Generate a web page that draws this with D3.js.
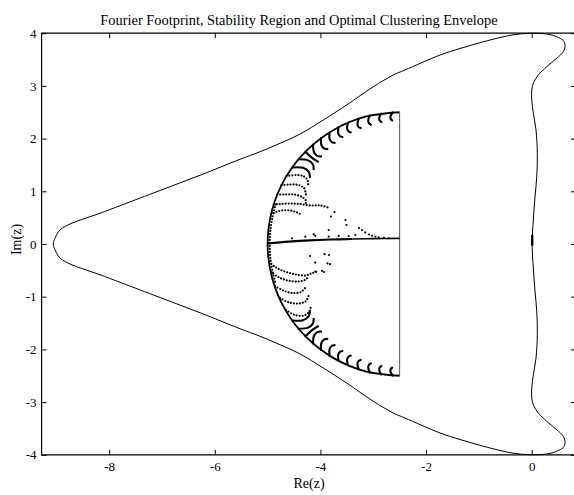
<!DOCTYPE html>
<html>
<head>
<meta charset="utf-8">
<script src="https://cdn.jsdelivr.net/npm/d3@7"></script>
<style>
  body { margin: 0; background: #fff; }
  svg { display: block; }
  text { font-family: "Liberation Serif", "Times New Roman", Times, serif; fill: #000; }
</style>
</head>
<body>
<svg id="chart" width="574" height="495"></svg>
<script>
// ---- axis ticks ----
const xTicks = [-8, -6, -4, -2, 0];
const yTicks = [-4, -3, -2, -1, 0, 1, 2, 3, 4];

// ---- stability region boundary (closed curve, Re / Im) ----
const stabilityRe = [
  -9.059, -9.027, -8.932, -8.742, -8.491, -8.174, -7.795, -7.038, -6.280, -5.523,
  -5.144, -4.765, -4.386, -3.945, -3.502, -2.998, -2.619, -2.398, -1.735, -1.356,
  -0.977, -0.598, -0.314, -0.030, 0.286, 0.475, 0.600, 0.633, 0.600, 0.475,
  0.286, 0.127, 0.032, 0.002, 0.002, 0.032, 0.083, 0.108, 0.097, 0.064,
  0.032, 0.008,
  0.032, 0.064, 0.097, 0.108, 0.083, 0.032, 0.002, 0.002, 0.032, 0.127,
  0.286, 0.475, 0.600, 0.633, 0.600, 0.475, 0.286, -0.030, -0.314, -0.598,
  -0.977, -1.356, -1.735, -2.398, -2.619, -2.998, -3.502, -3.945, -4.386, -4.765,
  -5.144, -5.523, -6.280, -7.038, -7.795, -8.174, -8.491, -8.742, -8.932, -9.027
];
const stabilityIm = [
  0, 0.108, 0.266, 0.380, 0.474, 0.583, 0.727, 1.015, 1.304, 1.607,
  1.751, 1.911, 2.087, 2.353, 2.638, 2.985, 3.207, 3.302, 3.586, 3.710,
  3.820, 3.918, 3.975, 3.998, 3.985, 3.934, 3.858, 3.776, 3.649, 3.524,
  3.364, 3.207, 3.049, 2.922, 2.732, 2.480, 2.163, 1.721, 1.277, 0.898,
  0.455, 0,
  -0.455, -0.898, -1.277, -1.721, -2.163, -2.480, -2.732, -2.922, -3.049, -3.207,
  -3.364, -3.524, -3.649, -3.776, -3.858, -3.934, -3.985, -3.998, -3.975, -3.918,
  -3.820, -3.710, -3.586, -3.302, -3.207, -2.985, -2.638, -2.353, -2.087, -1.911,
  -1.751, -1.607, -1.304, -1.015, -0.727, -0.583, -0.474, -0.380, -0.266, -0.108
];

// ---- optimal clustering envelope: left half circle, closed by Re = -2.5 ----
const envelopeRe = [-2.5, -3.147, -3.75, -4.268, -4.665, -4.915, -5.0, -4.915, -4.665, -4.268, -3.75, -3.147, -2.5];
const envelopeIm = [2.5, 2.415, 2.165, 1.768, 1.25, 0.647, 0, -0.647, -1.25, -1.768, -2.165, -2.415, -2.5];

// ---- Fourier footprint ----
// dense hooks hanging off the envelope, upper half
const hooksUpper = [
  [[-2.631, 2.497], [-2.672, 2.427], [-2.670, 2.375], [-2.641, 2.346]],
  [[-2.848, 2.476], [-2.886, 2.398], [-2.878, 2.343], [-2.845, 2.315]],
  [[-3.062, 2.436], [-3.095, 2.350], [-3.081, 2.292], [-3.044, 2.266]],
  [[-3.273, 2.378], [-3.299, 2.284], [-3.280, 2.224], [-3.238, 2.200]],
  [[-3.477, 2.301], [-3.496, 2.200], [-3.470, 2.139], [-3.424, 2.117]],
  [[-3.654, 2.218], [-3.666, 2.111], [-3.633, 2.048], [-3.583, 2.030]],
  [[-3.825, 2.120], [-3.829, 2.001], [-3.788, 1.936], [-3.731, 1.919]],
  [[-3.989, 2.010], [-3.983, 1.880], [-3.933, 1.813], [-3.869, 1.800]],
  [[-4.140, 1.887], [-4.121, 1.742], [-4.059, 1.671], [-3.987, 1.662]],
  [[-4.283, 1.752], [-4.187, 1.657], [-4.101, 1.595], [-4.048, 1.563]],
  [[-4.415, 1.607], [-4.232, 1.587], [-4.141, 1.510], [-4.128, 1.420]],
  [[-4.535, 1.452], [-4.330, 1.446], [-4.221, 1.368], [-4.199, 1.269]]
];
// dense hooks, lower half
const hooksLower = [
  [[-2.631, -2.497], [-2.672, -2.427], [-2.670, -2.375], [-2.641, -2.346]],
  [[-2.848, -2.476], [-2.886, -2.398], [-2.878, -2.343], [-2.845, -2.315]],
  [[-3.062, -2.436], [-3.095, -2.350], [-3.081, -2.292], [-3.044, -2.266]],
  [[-3.273, -2.378], [-3.299, -2.284], [-3.280, -2.224], [-3.238, -2.200]],
  [[-3.477, -2.301], [-3.496, -2.200], [-3.470, -2.139], [-3.424, -2.117]],
  [[-3.654, -2.218], [-3.666, -2.111], [-3.633, -2.048], [-3.583, -2.030]],
  [[-3.825, -2.120], [-3.829, -2.001], [-3.788, -1.936], [-3.731, -1.919]],
  [[-3.989, -2.010], [-3.983, -1.880], [-3.933, -1.813], [-3.869, -1.800]],
  [[-4.140, -1.887], [-4.121, -1.742], [-4.059, -1.671], [-3.987, -1.662]],
  [[-4.283, -1.752], [-4.187, -1.657], [-4.101, -1.595], [-4.048, -1.563]],
  [[-4.415, -1.607], [-4.232, -1.587], [-4.141, -1.510], [-4.128, -1.420]],
  [[-4.535, -1.452], [-4.330, -1.446], [-4.221, -1.368], [-4.199, -1.269]]
];
// sparser dotted arcs further round the envelope
const arcsUpper = [
  [[-4.644, 1.288], [-4.443, 1.309], [-4.311, 1.281], [-4.244, 1.214], [-4.235, 1.120]],
  [[-4.737, 1.116], [-4.576, 1.129], [-4.424, 1.120], [-4.311, 1.063], [-4.273, 0.930]],
  [[-4.818, 0.937], [-4.689, 0.939], [-4.500, 0.939], [-4.348, 0.892], [-4.273, 0.816], [-4.292, 0.740]],
  [[-4.884, 0.751], [-4.765, 0.759], [-4.576, 0.768], [-4.386, 0.759], [-4.197, 0.731], [-4.008, 0.731], [-3.856, 0.693]],
  [[-4.936, 0.562], [-4.841, 0.607], [-4.727, 0.636], [-4.576, 0.636], [-4.443, 0.598], [-4.348, 0.550]]
];
const arcsLower = [
  [[-4.973, -0.342], [-4.841, -0.446], [-4.652, -0.531], [-4.462, -0.579], [-4.292, -0.598], [-4.178, -0.560], [-4.064, -0.522]],
  [[-4.936, -0.531], [-4.784, -0.636], [-4.614, -0.693], [-4.424, -0.712], [-4.292, -0.683], [-4.235, -0.626]],
  [[-4.860, -0.797], [-4.708, -0.882], [-4.538, -0.930], [-4.367, -0.911], [-4.292, -0.835]],
  [[-4.765, -1.025], [-4.595, -1.110], [-4.405, -1.129], [-4.273, -1.082], [-4.225, -0.987]],
  [[-4.652, -1.252], [-4.481, -1.347], [-4.311, -1.357], [-4.216, -1.290], [-4.178, -1.176]]
];
// modes hugging the envelope close to the real axis
const edgeColumn = [[-4.85, 0.75], [-4.91, 0.5], [-4.95, 0.25], [-4.96, 0], [-4.95, -0.25], [-4.91, -0.5], [-4.85, -0.75]];
// near-real branch from the envelope to Re = -2.5 (dense part, then thinning part)
const realBranchDense = [[-5.0, 0.01], [-4.6, 0.045], [-4.2, 0.07], [-3.8, 0.085], [-3.4, 0.095]];
const realBranchThin = [[-3.4, 0.095], [-3.0, 0.102], [-2.5, 0.106]];
// isolated eigenvalues
const scatterUpper = [
  [-3.799, 0.522], [-3.733, 0.607], [-3.525, 0.455], [-3.506, 0.361], [-3.843, 0.266], [-4.127, 0.184],
  [-3.269, 0.304], [-3.212, 0.266], [-3.150, 0.222], [-3.080, 0.180], [-3.023, 0.157], [-2.960, 0.140],
  [-2.896, 0.127], [-2.800, 0.115], [-2.706, 0.108],
  [-4.538, 0.108], [-4.286, 0.139], [-4.097, 0.157], [-3.843, 0.139], [-3.653, 0.157], [-3.464, 0.152], [-3.339, 0.171]
];
const scatterLower = [
  [-4.197, -0.228], [-3.922, -0.194], [-3.837, -0.209], [-4.098, -0.355], [-3.866, -0.366], [-3.818, -0.383],
  [-4.098, -0.522], [-3.970, -0.509], [-3.932, -0.531]
];
// low-wavenumber modes next to the origin
const originModes = [[0.01, 0.17], [0.01, -0.03]];

// ---- scales ----
const svg = d3.select("#chart");
const x = d3.scaleLinear().domain([-9.28, 0.84]).range([41.6, 576]);
const y = d3.scaleLinear().domain([-4, 4]).range([454.8, 33.2]);
const [x0, x1] = x.range();
const [yB, yT] = y.range();

svg.append("rect").attr("width", 574).attr("height", 495).attr("fill", "#fff");

const smooth = d3.line().x(d => x(d[0])).y(d => y(d[1])).curve(d3.curveCatmullRom.alpha(0.5));
const straight = d3.line().x(d => x(d[0])).y(d => y(d[1]));

const plot = svg.append("g");

// stability region
const stabilityPts = stabilityRe.map((r, i) => [r, stabilityIm[i]]);
plot.append("path")
  .attr("d", d3.line().x(d => x(d[0])).y(d => y(d[1])).curve(d3.curveCatmullRomClosed.alpha(0.5))(stabilityPts))
  .attr("fill", "none").attr("stroke", "#000").attr("stroke-width", 1);

// clustering envelope
const envelopePts = envelopeRe.map((r, i) => [r, envelopeIm[i]]);
plot.append("path").attr("d", smooth(envelopePts))
  .attr("fill", "none").attr("stroke", "#000").attr("stroke-width", 1.8);
plot.append("path").attr("d", straight([envelopePts[envelopePts.length - 1], envelopePts[0]]))
  .attr("fill", "none").attr("stroke", "#555").attr("stroke-width", 1);

// footprint: dense hooks
plot.selectAll("path.hook").data(hooksUpper.concat(hooksLower)).join("path")
  .attr("class", "hook").attr("d", smooth)
  .attr("fill", "none").attr("stroke", "#000").attr("stroke-width", 2.1).attr("stroke-linecap", "round");

// footprint: dotted arcs
plot.selectAll("path.arc").data(arcsUpper.concat(arcsLower, [edgeColumn])).join("path")
  .attr("class", "arc").attr("d", smooth)
  .attr("fill", "none").attr("stroke", "#000").attr("stroke-width", 2.2)
  .attr("stroke-linecap", "round").attr("stroke-dasharray", "0 3");

// footprint: branch along the real axis
plot.append("path").attr("d", smooth(realBranchDense))
  .attr("fill", "none").attr("stroke", "#000").attr("stroke-width", 2.2);
plot.append("path").attr("d", smooth(realBranchThin))
  .attr("fill", "none").attr("stroke", "#000").attr("stroke-width", 1.6);

// footprint: isolated points
plot.selectAll("circle.pt").data(scatterUpper.concat(scatterLower)).join("circle")
  .attr("class", "pt").attr("cx", d => x(d[0])).attr("cy", d => y(d[1])).attr("r", 1.1).attr("fill", "#000");

plot.append("path").attr("d", straight(originModes))
  .attr("fill", "none").attr("stroke", "#000").attr("stroke-width", 2.4);

// ---- axes (ticks point inward) ----
const fmt = d => String(d);
const gB = svg.append("g").attr("transform", `translate(0,${yB})`)
  .call(d3.axisBottom(x).tickValues(xTicks).tickSizeInner(-5).tickSizeOuter(0).tickPadding(7).tickFormat(fmt));
const gT = svg.append("g").attr("transform", `translate(0,${yT})`)
  .call(d3.axisTop(x).tickValues(xTicks).tickSizeInner(-5).tickSizeOuter(0).tickFormat(""));
const gL = svg.append("g").attr("transform", `translate(${x0},0)`)
  .call(d3.axisLeft(y).tickValues(yTicks).tickSizeInner(-5).tickSizeOuter(0).tickPadding(5).tickFormat(fmt));
const gR = svg.append("g").attr("transform", `translate(${x1},0)`)
  .call(d3.axisRight(y).tickValues(yTicks).tickSizeInner(-5).tickSizeOuter(0).tickFormat(""));
[gB, gT, gL, gR].forEach(g => {
  g.select(".domain").remove();
  g.selectAll("line").attr("stroke", "#000");
  g.selectAll("text").attr("font-size", 13).attr("font-family", null);
});

// frame
svg.append("path")
  .attr("d", `M${x1},${yT}H${x0}V${yB}H${x1}`)
  .attr("fill", "none").attr("stroke", "#000").attr("stroke-width", 1.2);

// titles
svg.append("text").attr("x", 299).attr("y", 24.5).attr("text-anchor", "middle")
  .attr("font-size", 14.4).text("Fourier Footprint, Stability Region and Optimal Clustering Envelope");
svg.append("text").attr("x", 309).attr("y", 487.5).attr("text-anchor", "middle")
  .attr("font-size", 14).text("Re(z)");
svg.append("text").attr("transform", "translate(21,239.5) rotate(-90)").attr("text-anchor", "middle")
  .attr("font-size", 14).text("Im(z)");
</script>
</body>
</html>
